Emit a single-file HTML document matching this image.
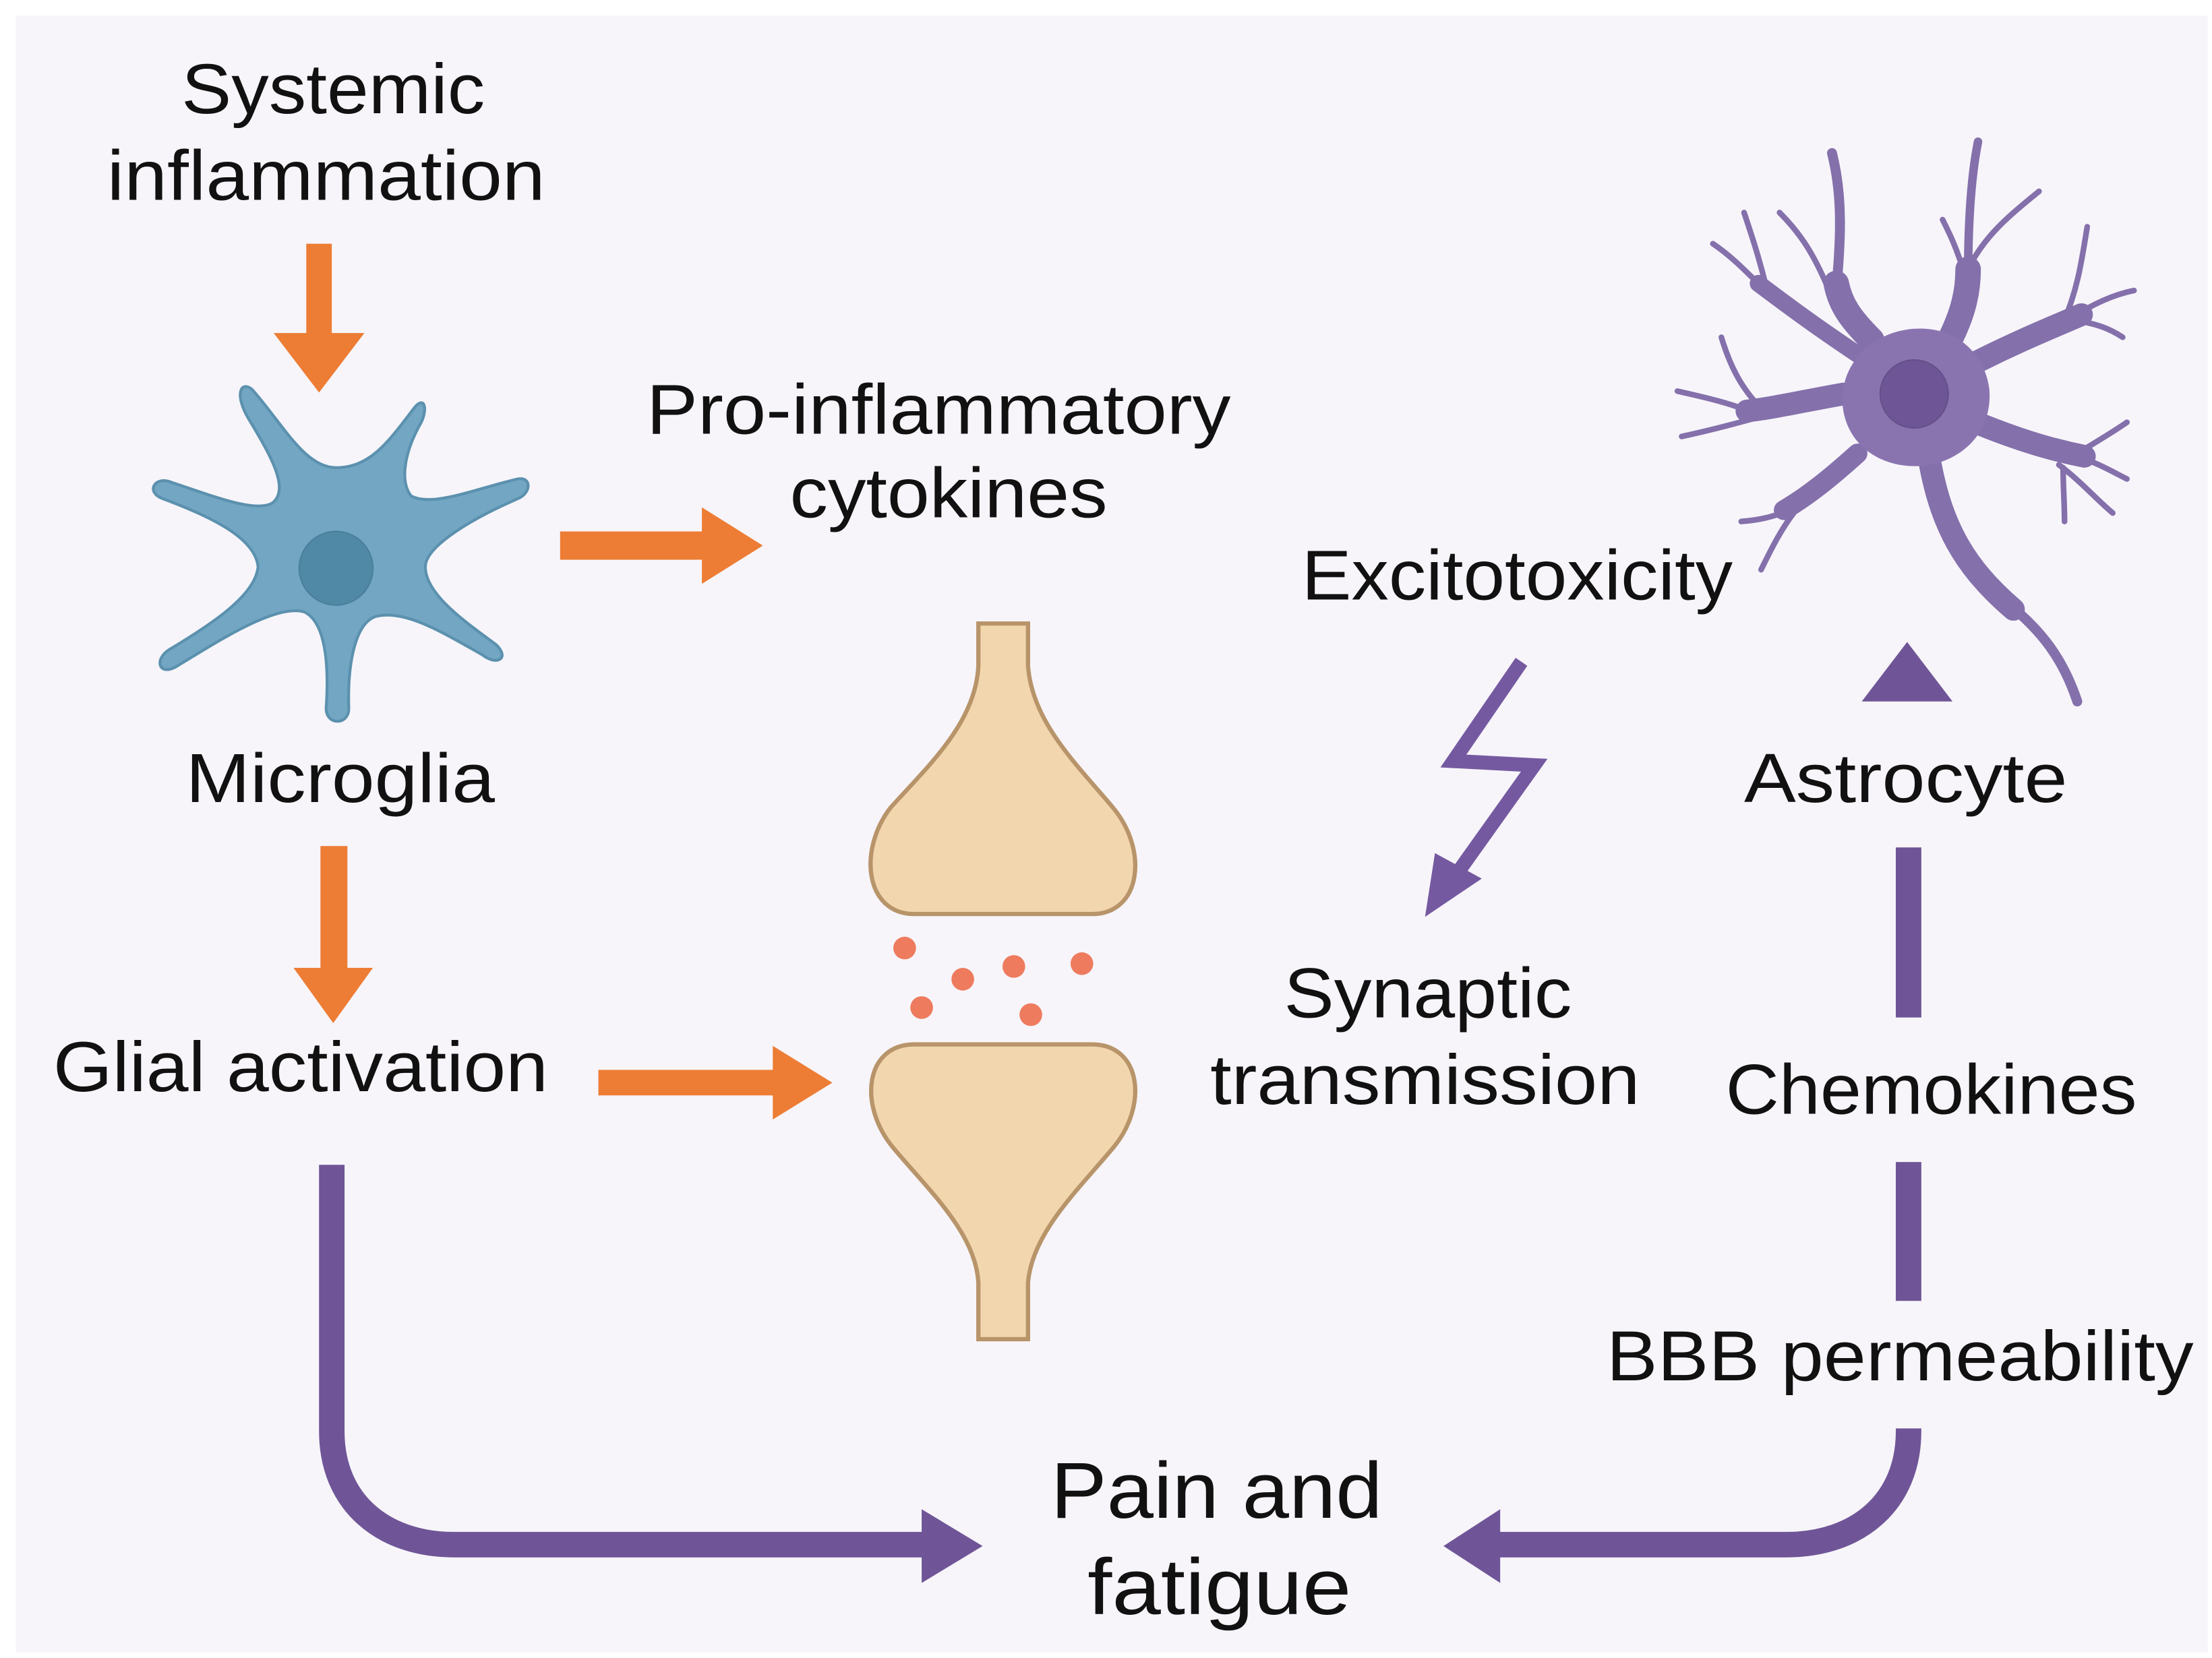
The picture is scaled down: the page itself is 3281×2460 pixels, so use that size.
<!DOCTYPE html>
<html><head><meta charset="utf-8"><style>
html,body{margin:0;padding:0;background:#fff;}
svg{display:block;}
text{font-family:"Liberation Sans",sans-serif;fill:#111;text-anchor:middle;}
</style></head><body>
<svg width="3281" height="2460" viewBox="0 0 1560 1170" preserveAspectRatio="none" xmlns="http://www.w3.org/2000/svg">
<rect x="0" y="0" width="1560" height="1170" fill="#ffffff"/>
<rect x="11" y="11" width="1546" height="1155" fill="#f7f5fa"/>

<!-- Systemic inflammation -->
<text x="235" y="80" font-size="50" textLength="214" lengthAdjust="spacingAndGlyphs">Systemic</text>
<text x="230" y="141" font-size="50" textLength="309" lengthAdjust="spacingAndGlyphs">inflammation</text>
<polygon fill="#ed7d35" points="216,172 234,172 234,235 257,235 225,277 193,235 216,235"/>

<!-- Microglia -->
<path fill="#72a6c2" stroke="#5b91ae" stroke-width="2" d="M237,330 C262,330 275,310 292,288 C300,278 302,290 296,300 C285,320 282,340 290,350 C305,358 335,345 365,338 C375,336 375,348 365,352 C335,365 300,385 300,400 C300,420 330,440 350,455 C360,465 350,470 340,462 C310,445 285,430 265,435 C250,440 245,470 246,500 C246,512 230,512 230,500 C232,470 230,440 215,432 C195,425 150,455 125,470 C112,478 108,465 120,458 C150,440 180,420 182,400 C180,380 150,365 115,352 C103,348 108,336 120,340 C150,350 180,362 192,355 C205,345 190,320 175,295 C165,278 170,268 178,275 C200,300 215,330 237,330 Z"/>
<circle cx="237" cy="401" r="26" fill="#5089a6" stroke="#4a7f9b" stroke-width="1"/>
<text x="240" y="566" font-size="49" textLength="218" lengthAdjust="spacingAndGlyphs">Microglia</text>

<!-- arrow to cytokines -->
<polygon fill="#ed7d35" points="395,375 495,375 495,358 538,385 495,412 495,395 395,395"/>
<text x="662" y="306" font-size="50" textLength="412" lengthAdjust="spacingAndGlyphs">Pro-inflammatory</text>
<text x="669" y="365" font-size="50" textLength="224" lengthAdjust="spacingAndGlyphs">cytokines</text>

<!-- down arrow to glial -->
<polygon fill="#ed7d35" points="226,597 245,597 245,683 263,683 235,722 207,683 226,683"/>
<text x="212" y="770" font-size="50" textLength="349" lengthAdjust="spacingAndGlyphs">Glial activation</text>
<polygon fill="#ed7d35" points="422,755 545,755 545,738 587,764 545,790 545,773 422,773"/>

<!-- synapse -->
<path fill="#f2d6ae" stroke="#b8946a" stroke-width="3" d="M690,440 L725,440 L725,470 C728,510 760,540 785,570 C810,600 805,645 770,645 L645,645 C610,645 605,600 628,570 C655,540 688,510 690,470 Z"/>
<path fill="#f2d6ae" stroke="#b8946a" stroke-width="3" d="M645,737 L770,737 C805,737 810,780 785,810 C760,840 728,870 725,905 L725,945 L690,945 L690,905 C688,870 655,840 630,810 C605,780 610,737 645,737 Z"/>
<g fill="#ee7b5e">
<circle cx="638" cy="669" r="8"/><circle cx="679" cy="691" r="8"/><circle cx="715" cy="682" r="8"/>
<circle cx="763" cy="680" r="8"/><circle cx="650" cy="711" r="8"/><circle cx="727" cy="716" r="8"/>
</g>

<!-- excitotoxicity -->
<text x="1070" y="423" font-size="50" textLength="304" lengthAdjust="spacingAndGlyphs">Excitotoxicity</text>
<polyline fill="none" stroke="#7559a0" stroke-width="10" stroke-linejoin="miter" points="1073,467 1025,537 1082,540 1025,620"/>
<polygon fill="#7559a0" points="1005,647 1012,602 1045,620"/>
<text x="1007" y="718" font-size="50" textLength="203" lengthAdjust="spacingAndGlyphs">Synaptic</text>
<text x="1005" y="779" font-size="50" textLength="303" lengthAdjust="spacingAndGlyphs">transmission</text>

<!-- astrocyte -->
<g fill="none" stroke="#8470ab" stroke-linecap="round">
<path stroke-width="18" d="M1320,240 C1305,225 1298,215 1295,200"/>
<path stroke-width="7" d="M1295,205 C1298,170 1300,140 1292,108"/>
<path stroke-width="4" d="M1292,210 C1280,180 1270,165 1255,150"/>
<path stroke-width="12" d="M1310,250 C1280,230 1260,215 1240,200"/>
<path stroke-width="4" d="M1245,205 C1230,190 1220,180 1208,172"/>
<path stroke-width="4" d="M1245,200 C1240,180 1235,165 1230,150"/>
<path stroke-width="18" d="M1375,240 C1385,220 1388,205 1388,190"/>
<path stroke-width="6" d="M1388,195 C1388,160 1390,125 1395,100"/>
<path stroke-width="4" d="M1388,190 C1400,165 1420,150 1438,135"/>
<path stroke-width="4" d="M1386,195 C1380,175 1375,165 1370,155"/>
<path stroke-width="16" d="M1395,255 C1425,240 1445,232 1468,222"/>
<path stroke-width="4" d="M1460,225 C1475,215 1490,208 1505,205"/>
<path stroke-width="4" d="M1462,226 C1478,228 1488,232 1497,238"/>
<path stroke-width="4" d="M1455,228 C1465,205 1468,185 1472,160"/>
<path stroke-width="16" d="M1398,300 C1428,312 1450,318 1470,322"/>
<path stroke-width="4" d="M1465,320 C1478,312 1490,305 1500,298"/>
<path stroke-width="4" d="M1465,322 C1480,327 1490,333 1500,338"/>
<path stroke-width="4" d="M1452,328 C1468,340 1478,352 1490,362"/>
<path stroke-width="4" d="M1455,330 C1455,345 1456,355 1456,368"/>
<path stroke-width="16" d="M1300,278 C1272,283 1250,288 1232,290"/>
<path stroke-width="4" d="M1238,292 C1220,284 1200,280 1183,276"/>
<path stroke-width="4" d="M1238,295 C1220,300 1200,305 1186,308"/>
<path stroke-width="4" d="M1242,288 C1228,274 1220,258 1214,238"/>
<path stroke-width="14" d="M1310,320 C1290,338 1275,350 1258,360"/>
<path stroke-width="4" d="M1262,360 C1250,365 1240,367 1228,368"/>
<path stroke-width="4" d="M1265,362 C1255,375 1248,390 1242,402"/>
<path stroke-width="16" d="M1360,320 C1368,370 1385,400 1420,430"/>
<path stroke-width="7" d="M1415,425 C1440,445 1455,465 1465,495"/>
</g>
<path fill="#8a74b0" d="M1350,232 C1380,230 1400,250 1403,275 C1405,302 1388,322 1362,328 C1332,333 1305,318 1300,290 C1295,258 1320,234 1350,232 Z"/>
<circle cx="1350" cy="278" r="24" fill="#6e5696" stroke="#65508a" stroke-width="1"/>
<polygon fill="#6f5597" points="1313,495 1377,495 1345,453"/>
<text x="1344" y="566" font-size="49" textLength="228" lengthAdjust="spacingAndGlyphs">Astrocyte</text>

<!-- right chain -->
<rect x="1337" y="598" width="18" height="120" fill="#6f5597"/>
<text x="1362" y="786" font-size="50" textLength="290" lengthAdjust="spacingAndGlyphs">Chemokines</text>
<rect x="1337" y="820" width="18" height="98" fill="#6f5597"/>
<text x="1340" y="974" font-size="50" textLength="414" lengthAdjust="spacingAndGlyphs">BBB permeability</text>
<path fill="none" stroke="#6f5597" stroke-width="18" d="M1346,1008 L1346,1010 C1346,1060 1310,1090 1260,1090 L1055,1090"/>
<polygon fill="#6f5597" points="1058,1065 1058,1117 1018,1091"/>

<!-- left chain -->
<path fill="none" stroke="#6f5597" stroke-width="18" d="M234,822 L234,1010 C234,1060 270,1090 320,1090 L655,1090"/>
<polygon fill="#6f5597" points="650,1065 650,1117 693,1091"/>

<text x="858" y="1071" font-size="56" textLength="234" lengthAdjust="spacingAndGlyphs">Pain and</text>
<text x="860" y="1139" font-size="56" textLength="186" lengthAdjust="spacingAndGlyphs">fatigue</text>
</svg>
</body></html>
